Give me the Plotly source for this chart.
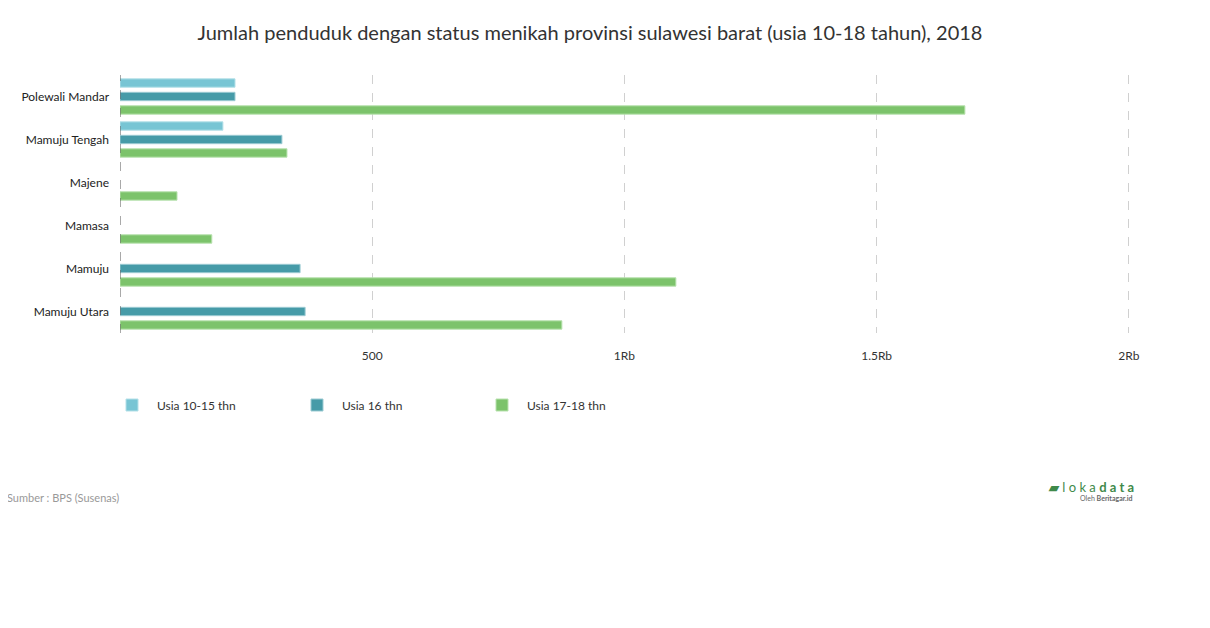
import plotly.graph_objects as go

categories = ["Polewali Mandar", "Mamuju Tengah", "Majene", "Mamasa", "Mamuju", "Mamuju Utara"]
usia_10_15 = [228, 204, None, None, None, None]
usia_16 = [228, 321, None, None, 357, 367]
usia_17_18 = [1675, 331, 113, 182, 1102, 876]
series_names = ["Usia 10-15 thn", "Usia 16 thn", "Usia 17-18 thn"]
colors = ["#78c5d4", "#469ba8", "#7cc36b"]
line_colors = ["#b4e0e8", "#9ccbd3", "#b8e2ae"]
tick_vals = [500, 1000, 1500, 2000]
tick_text = ["500", "1Rb", "1.5Rb", "2Rb"]

FONT = "Lato, 'Open Sans', sans-serif"

# page offset of 8px (body margin) compensated
OFF = 8
L = 120 - OFF
T = 75 - OFF
BOT = 333 - OFF
PW = 1029
PH = BOT - T

fig = go.Figure()
for name, vals, c, lc in zip(series_names, [usia_10_15, usia_16, usia_17_18], colors, line_colors):
    fig.add_trace(go.Bar(
        y=categories, x=vals, name=name, orientation="h",
        marker=dict(color=c, line=dict(color=lc, width=1)),
    ))

def px_x(px):
    return (px - OFF - L) / PW

def px_y(py):
    return (BOT - (py - OFF)) / PH

fig.update_layout(
    width=1210, height=628,
    margin=dict(l=L, r=1210 - L - PW, t=T, b=628 - BOT),
    paper_bgcolor="white", plot_bgcolor="white",
    font=dict(family=FONT, size=12, color="#333333"),
    barmode="group", bargap=0.06, bargroupgap=0.38,
    title=dict(
        text="Jumlah penduduk dengan status menikah provinsi sulawesi barat (usia 10-18 tahun), 2018",
        x=(590 - OFF) / 1210, xanchor="center", y=1 - (33 - OFF) / 628, yanchor="middle",
        font=dict(family=FONT, size=20, color="#333333"),
    ),
    xaxis=dict(
        range=[0, 2040], tickvals=tick_vals, ticktext=tick_text,
        showgrid=True, gridcolor="#d0d0d0", griddash="dash", gridwidth=1,
        zeroline=False, showline=False, ticks="",
        ticklabelstandoff=14, tickfont=dict(size=12, color="#333333"),
        fixedrange=True,
    ),
    yaxis=dict(
        autorange="reversed", showgrid=False, zeroline=False, showline=False,
        ticks="", ticklabelstandoff=10, tickfont=dict(size=12, color="#222222"),
        fixedrange=True,
    ),
    legend=dict(
        orientation="h", x=-13 / PW, xanchor="left", y=px_y(405), yanchor="middle",
        font=dict(size=12, color="#333333"), entrywidth=130, entrywidthmode="pixels",
        itemwidth=40, traceorder="normal",
    ),
    shapes=[dict(
        type="line", xref="x", yref="paper", x0=0, x1=0, y0=0, y1=1,
        line=dict(color="#555555", width=1, dash="dash"), layer="above",
    )],
    annotations=[
        dict(text="Sumber : BPS (Susenas)", xref="paper", yref="paper",
             x=px_x(5), y=px_y(497), xanchor="left", yanchor="middle",
             showarrow=False, font=dict(size=11, color="#999999")),
        dict(text="<b>▰</b> l o k a <b>d a t a</b>", xref="paper", yref="paper",
             x=px_x(1136), y=px_y(487), xanchor="right", yanchor="middle",
             showarrow=False, font=dict(size=13, color="#3f8a4a")),
        dict(text="Oleh <b>Beritagar.id</b>", xref="paper", yref="paper",
             x=px_x(1134), y=px_y(498), xanchor="right", yanchor="middle",
             showarrow=False, font=dict(size=7, color="#666666")),
    ],
)

fig.write_html("out.html")
